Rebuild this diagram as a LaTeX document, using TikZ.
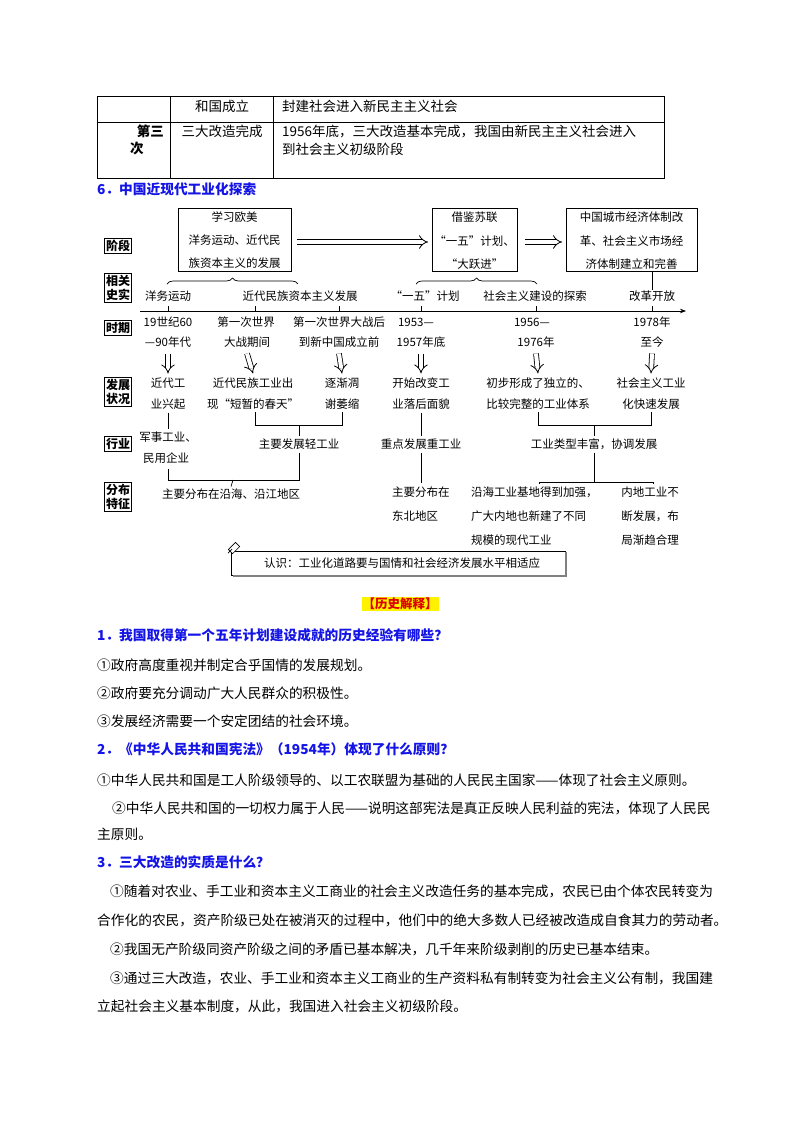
\documentclass[tikz,border=0pt]{standalone}
\usepackage{fontspec}
\setmainfont{Noto Sans CJK SC}
\usetikzlibrary{arrows.meta,decorations.pathreplacing}
\definecolor{qblue}{RGB}{20,20,230}
\definecolor{hred}{RGB}{220,0,0}
\tikzset{
 tb/.style={font=\fontsize{13.5}{14}\selectfont,inner sep=0pt},
 dg/.style={font=\fontsize{11.5}{12}\selectfont,inner sep=0pt},
 lab/.style={draw,line width=0.9pt,font=\fontsize{12}{14}\selectfont\bfseries,inner sep=1.5pt,align=center},
 body/.style={font=\fontsize{13.7}{14}\selectfont,inner sep=0pt,anchor=west},
 qh/.style={font=\fontsize{13.7}{14}\selectfont\bfseries,text=qblue,inner sep=0pt,anchor=west},
 bx/.style={draw,line width=0.8pt},
 ln/.style={line width=0.7pt},
 harrow/.style={draw,double,double distance=4pt,line width=0.8pt,-{Implies}},
}
\begin{document}
\begin{tikzpicture}[x=1pt,y=-1pt]
\useasboundingbox (0,0) rectangle (800,1132);
% ---- table
\draw[line width=0.8pt] (97,96) rectangle (664,178);
\draw[line width=0.6pt] (97,122) -- (664,122) (170,96) -- (170,178) (273,96) -- (273,178);
\node[tb] (t1) at (222,106) {和国成立};
\node[tb,anchor=west] (t2) at (282,106) {封建社会进入新民主主义社会};
\node[tb,font=\fontsize{13.5}{14}\selectfont\bfseries,anchor=east] (t3) at (164,131) {第三};
\node[tb,font=\fontsize{13.5}{14}\selectfont\bfseries,anchor=west] (t4) at (130,148) {次};
\node[tb] (t5) at (222,131) {三大改造完成};
\node[tb,anchor=west] (t6) at (282,131) {1956年底，三大改造基本完成，我国由新民主主义社会进入};
\node[tb,anchor=west] (t7) at (282,149) {到社会主义初级阶段};
\node[qh] (h6) at (97,189) {6．中国近现代工业化探索};
% ---- left labels
\node[lab] (L1) at (118,246) {阶段};
\node[lab] (L2) at (118,288) {相关\\史实};
\node[lab] (L3) at (118,328) {时期};
\node[lab] (L4) at (118,392) {发展\\状况};
\node[lab] (L5) at (118,444) {行业};
\node[lab] (L6) at (118,497) {分布\\特征};
% ---- stage boxes
\node[bx,minimum width=113pt,minimum height=63pt] (B1) at (234.5,239.5) {};
\node[dg] at (234.5,217) {学习欧美};
\node[dg] at (234.5,240) {洋务运动、近代民};
\node[dg] at (234.5,263) {族资本主义的发展};
\node[bx,minimum width=85pt,minimum height=63pt] (B2) at (474.5,239.5) {};
\node[dg] at (474.5,217) {借鉴苏联};
\node[dg] at (474.5,241) {“一五”计划、};
\node[dg] at (474.5,264) {“大跃进”};
\node[bx,minimum width=131pt,minimum height=63pt] (B3) at (631.5,239.5) {};
\node[dg] at (631.5,217) {中国城市经济体制改};
\node[dg] at (631.5,241) {革、社会主义市场经};
\node[dg] at (631.5,264) {济体制建立和完善};
\draw[harrow] (B1.east |- 0,242) ++(6,0) -- (428,242);
\draw[harrow] (B2.east |- 0,242) ++(8,0) -- (562,242);
\draw[ln,decorate,decoration={brace,amplitude=6pt}] (167,284) -- (298,284);
\draw[ln,decorate,decoration={brace,amplitude=6pt}] (416,284) -- (537,284);
% ---- related facts
\node[dg] (f1) at (168,296) {洋务运动};
\node[dg] (f2) at (300,296) {近代民族资本主义发展};
\node[dg] (f3) at (425,296) {“一五”计划};
\node[dg] (f4) at (535,296) {社会主义建设的探索};
\node[dg] (f5) at (652,296) {改革开放};
\draw[ln] (B3.south -| f5) -- (f5.north);
% axis
\draw[ln,-{Stealth[length=6pt]}] (140,311) -- (686,311);
\foreach \x in {168,255,339,421,536,652}{\draw[ln] (\x,311) -- (\x,306);}
% periods
\node[dg] (p1) at (168,322) {19世纪60};
\node[dg] (p1b) at (168,342) {—90年代};
\node[dg] (p2) at (246,322) {第一次世界};
\node[dg] (p2b) at (247,342) {大战期间};
\node[dg] (p3) at (339,322) {第一次世界大战后};
\node[dg] (p3b) at (339,342) {到新中国成立前};
\node[dg] (p4) at (416,322) {1953—};
\node[dg] (p4b) at (421,342) {1957年底};
\node[dg] (p5) at (532,322) {1956—};
\node[dg] (p5b) at (536,342) {1976年};
\node[dg] (p6) at (652,322) {1978年};
\node[dg] (p6b) at (652,342) {至今};
% development
\node[dg] (d1) at (168,383) {近代工};
\node[dg] (d1b) at (168,404) {业兴起};
\node[dg] (d2) at (253,383) {近代民族工业出};
\node[dg] (d2b) at (253,404) {现“短暂的春天”};
\node[dg] (d3) at (342,383) {逐渐凋};
\node[dg] (d3b) at (342,404) {谢萎缩};
\node[dg] (d4) at (421,383) {开始改变工};
\node[dg] (d4b) at (421,404) {业落后面貌};
\node[dg] (d5) at (538,383) {初步形成了独立的、};
\node[dg] (d5b) at (538,404) {比较完整的工业体系};
\node[dg] (d6) at (651,383) {社会主义工业};
\node[dg] (d6b) at (651,404) {化快速发展};
\foreach \a/\b in {p1b/d1,p2b/d2,p3b/d3,p4b/d4,p5b/d5,p6b/d6}{
 \draw[harrow] ([yshift=-6pt]\a.south) -- ([yshift=4pt]\b.north);}
% industry
\node[dg] (i1) at (168,437) {军事工业、};
\node[dg] (i1b) at (166,458) {民用企业};
\node[dg] (i2) at (299,444) {主要发展轻工业};
\node[dg] (i3) at (421,444) {重点发展重工业};
\node[dg] (i4) at (594,444) {工业类型丰富，协调发展};
\draw[ln] ([yshift=-3pt]d1b.south) -- ([yshift=2pt]i1.north);
\draw[ln] (255,412) -- (255,425) -- (342,425) -- (342,412);
\draw[ln] (299,425) -- ([yshift=2pt]i2.north);
\draw[ln] ([yshift=-3pt]d4b.south) -- ([yshift=2pt]i3.north);
\draw[ln] (538,412) -- (538,425) -- (651,425) -- (651,412);
\draw[ln] (594,425) -- ([yshift=2pt]i4.north);
% distribution
\node[dg] (s1) at (231,494) {主要分布在沿海、沿江地区};
\node[dg,anchor=west] (s2) at (392,492) {主要分布在};
\node[dg,anchor=west] (s2b) at (392,516) {东北地区};
\node[dg,anchor=west] (s3) at (471,492) {沿海工业基地得到加强，};
\node[dg,anchor=west] (s3b) at (471,516) {广大内地也新建了不同};
\node[dg,anchor=west] (s3c) at (471,540) {规模的现代工业};
\node[dg] (s4) at (650,492) {内地工业不};
\node[dg] (s4b) at (650,516) {断发展，布};
\node[dg] (s4c) at (650,540) {局渐趋合理};
\draw[ln] ([yshift=-3pt]i2.south) -- (299,480) -- (168,480) -- (168,469);
\draw[ln] (233,480) -- ([yshift=2pt]s1.north);
\draw[ln] ([yshift=-3pt]i3.south) -- ([yshift=3pt]s2.north -| i3);
\draw[ln] ([yshift=-3pt]i4.south) -- (594,482);
\draw[ln] (539,484) -- (539,482) -- (653,482) -- (653,484);
% note box
\node[draw,line width=0.7pt,minimum width=334pt,minimum height=24pt] (nb) at (398,563) {};
\draw[line width=1.2pt,gray] (233,576) -- (566,576) -- (566,552);
\node[dg] (nt) at (402,563) {认识：工业化道路要与国情和社会经济发展水平相适应};
\draw[ln,fill=white,rotate around={45:(234,548)}] (229,545) rectangle (239,551);
\draw[ln] (228,553) -- (232,549);
% ---- text section
\node[fill=yellow,inner sep=1pt,font=\fontsize{12.5}{14}\selectfont\bfseries,text=hred] (he) at (400,604) {【历史解释】};
\node[qh] (q1) at (97,635) {1．我国取得第一个五年计划建设成就的历史经验有哪些？};
\node[body] (a11) at (97,665) {①政府高度重视并制定合乎国情的发展规划。};
\node[body] (a12) at (97,693) {②政府要充分调动广大人民群众的积极性。};
\node[body] (a13) at (97,721) {③发展经济需要一个安定团结的社会环境。};
\node[qh] (q2) at (97,749) {2．《中华人民共和国宪法》（1954年）体现了什么原则？};
\node[body] (a21) at (97,780) {①中华人民共和国是工人阶级领导的、以工农联盟为基础的人民民主国家——体现了社会主义原则。};
\node[body] (a22) at (112,808) {②中华人民共和国的一切权力属于人民——说明这部宪法是真正反映人民利益的宪法，体现了人民民};
\node[body] (a22b) at (97,834) {主原则。};
\node[qh] (q3) at (97,862) {3．三大改造的实质是什么？};
\node[body] (a31) at (110,891) {①随着对农业、手工业和资本主义工商业的社会主义改造任务的基本完成，农民已由个体农民转变为};
\node[body] (a31b) at (97,920) {合作化的农民，资产阶级已处在被消灭的过程中，他们中的绝大多数人已经被改造成自食其力的劳动者。};
\node[body] (a32) at (110,949) {②我国无产阶级同资产阶级之间的矛盾已基本解决，几千年来阶级剥削的历史已基本结束。};
\node[body] (a33) at (110,978) {③通过三大改造，农业、手工业和资本主义工商业的生产资料私有制转变为社会主义公有制，我国建};
\node[body] (a33b) at (97,1006) {立起社会主义基本制度，从此，我国进入社会主义初级阶段。};
\end{tikzpicture}
\end{document}
